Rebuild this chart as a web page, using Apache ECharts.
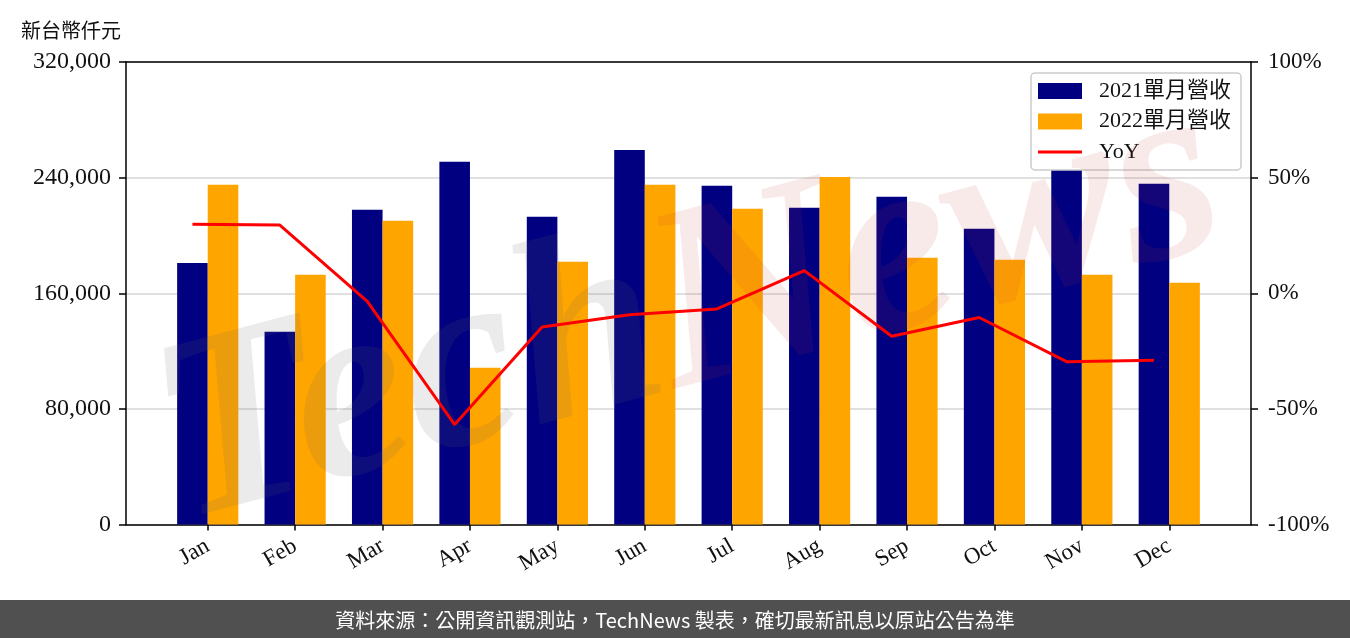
<!DOCTYPE html>
<html>
<head>
<meta charset="utf-8">
<script src="https://cdn.jsdelivr.net/npm/echarts@6/dist/echarts.min.js"></script>
<style>
html,body{margin:0;padding:0;background:#fff;}
#chart{width:1350px;height:638px;}
</style>
</head>
<body>
<div id="chart"></div>
<script>
const months = ['Jan','Feb','Mar','Apr','May','Jun','Jul','Aug','Sep','Oct','Nov','Dec'];
const rev2021 = [181000,133400,217700,250900,212900,259200,234300,219100,226700,204600,245400,235700];
const rev2022 = [235000,172800,210100,108500,181800,235000,218400,240500,184500,183200,172800,167300];
const yoy = [29.8,29.5,-3.5,-56.8,-14.6,-9.3,-6.8,9.8,-18.6,-10.5,-29.6,-29.0];
const leftTicks = {min:0, max:320000, interval:80000};
const rightTicks = {min:-100, max:100, interval:50};
const seriesNames = ['2021單月營收','2022單月營收','YoY'];
const yTitle = '新台幣仟元';
const footer = '資料來源：公開資訊觀測站，TechNews 製表，確切最新訊息以原站公告為準';

const serif = '"Liberation Serif","Times New Roman","Noto Sans CJK TC",serif';
const BAR_W = 0.35;
const X_MIN = -0.935, X_MAX = 11.935;

const chart = echarts.init(document.getElementById('chart'), null, {renderer:'canvas'});
const idx = months.map((m,i)=>i);

chart.setOption({
  animation:false,
  backgroundColor:'#fff',
  title:{
    text:yTitle, left:16, top:15,
    textStyle:{fontFamily:'"Noto Sans CJK TC",sans-serif', fontSize:20, fontWeight:'normal', color:'#111'}
  },
  grid:{left:126, right:99, top:62, bottom:113.5, show:false},
  legend:{
    orient:'vertical', right:109, top:73,
    padding:[7,10,7,7], itemGap:8.5, itemWidth:44, itemHeight:16,
    backgroundColor:'rgba(255,255,255,0.8)', borderColor:'#ccc', borderWidth:1.5, borderRadius:4,
    textStyle:{fontFamily:serif, fontSize:22, color:'#111', padding:[0,0,0,12], lineHeight:21},
    data:[
      {name:seriesNames[0], icon:'rect'},
      {name:seriesNames[1], icon:'rect'},
      {name:seriesNames[2], icon:'path://M0,0 M44,16 M0,6.5 L44,6.5 L44,9.5 L0,9.5 Z'}
    ]
  },
  xAxis:[{
    type:'value', min:X_MIN, max:X_MAX,
    splitLine:{show:false},
    axisLine:{show:true, onZero:false, lineStyle:{color:'#000', width:1.5}},
    axisTick:{show:true, customValues:idx, length:6, lineStyle:{color:'#000', width:1.5}},
    axisLabel:{customValues:idx, rotate:30, margin:20, fontFamily:serif, fontSize:23, color:'#111',
      formatter:v=>months[Math.round(v)]}
  },{
    type:'value', min:X_MIN, max:X_MAX, position:'top',
    splitLine:{show:false}, axisTick:{show:false}, axisLabel:{show:false},
    axisLine:{show:true, onZero:false, lineStyle:{color:'#000', width:1.5}}
  }],
  yAxis:[{
    type:'value', min:leftTicks.min, max:leftTicks.max, interval:leftTicks.interval, position:'left',
    axisLine:{show:true, onZero:false, lineStyle:{color:'#000', width:1.5}},
    axisTick:{show:true, length:7, lineStyle:{color:'#000', width:1.5}},
    splitLine:{show:true, lineStyle:{color:'#d6d6d6', width:1.5}},
    axisLabel:{fontFamily:serif, fontSize:24, color:'#111', margin:15,
      formatter:v=>v.toLocaleString('en-US')}
  },{
    type:'value', min:rightTicks.min, max:rightTicks.max, interval:rightTicks.interval, position:'right',
    axisLine:{show:true, onZero:false, lineStyle:{color:'#000', width:1.5}},
    axisTick:{show:true, length:7, lineStyle:{color:'#000', width:1.5}},
    splitLine:{show:false},
    axisLabel:{fontFamily:serif, fontSize:23, color:'#111', margin:17, formatter:v=>v+'%'}
  }],
  series:[{
    name:seriesNames[0], type:'bar', yAxisIndex:0, barWidth:(BAR_W*100)+'%', barGap:'0%', z:2,
    itemStyle:{color:'#000080'},
    data:rev2021.map((v,i)=>[i,v])
  },{
    name:seriesNames[1], type:'bar', yAxisIndex:0, barWidth:(BAR_W*100)+'%', barGap:'0%', z:2,
    itemStyle:{color:'#FFA500'},
    data:rev2022.map((v,i)=>[i,v])
  },{
    name:seriesNames[2], type:'line', yAxisIndex:1, symbol:'none', z:10,
    lineStyle:{color:'#FF0000', width:3}, itemStyle:{color:'#FF0000'},
    data:yoy.map((v,i)=>[i-BAR_W/2,v])
  }],
  graphic:[{
    type:'text', z:5, silent:true,
    x:690, y:315, rotation:0.26,
    style:{
      text:'{a|Tech}{b|News}', align:'center', verticalAlign:'middle',
      rich:{
        a:{font:'italic bold 260px "Liberation Serif", serif', fill:'rgba(100,100,100,0.13)'},
        b:{font:'italic bold 260px "Liberation Serif", serif', fill:'rgba(195,45,45,0.10)'}
      }
    }
  },{
    type:'rect', left:0, bottom:0, z:50, silent:true,
    shape:{width:1350, height:38},
    style:{fill:'#505050'}
  },{
    type:'text', left:'center', bottom:8, z:51, silent:true,
    style:{text:footer, fill:'#fff', font:'20px "Noto Sans CJK TC", sans-serif'}
  }]
});
</script>
</body>
</html>
